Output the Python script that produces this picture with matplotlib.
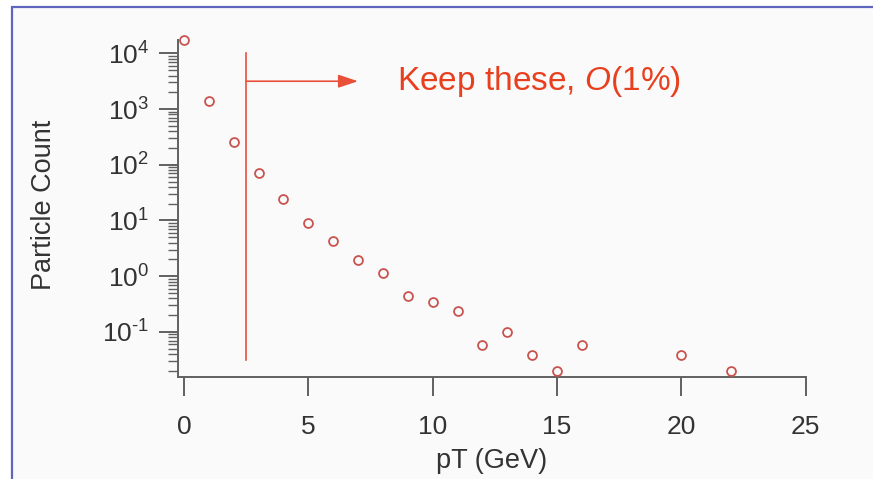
import matplotlib
matplotlib.use("Agg")
import matplotlib.pyplot as plt
from matplotlib.patches import Rectangle
from matplotlib.ticker import LogLocator, FixedLocator, NullLocator
import numpy as np

plt.rcParams['font.family'] = ['Liberation Sans', 'DejaVu Sans']
plt.rcParams['mathtext.fontset'] = 'custom'
plt.rcParams['mathtext.rm'] = 'Liberation Sans'
plt.rcParams['mathtext.it'] = 'Liberation Sans:italic'

# ---- data ----
pt = [0, 1, 2, 3, 4, 5, 6, 7, 8, 9, 10, 11, 12, 13, 14, 15, 16, 20, 22]
counts = [17300, 1410, 252, 72, 24, 9.1, 4.3, 1.92, 1.12, 0.445, 0.347, 0.239,
          0.059, 0.1, 0.039, 0.02, 0.059, 0.039, 0.02]
x_ticks = [0, 5, 10, 15, 20, 25]
cut_pt = 2.5
cut_top, cut_bottom = 1e4, 0.031
arrow_y, arrow_end = 10**3.5, 7.0
note_text = "Keep these, $\\mathit{O}$(1%)"
note_x, note_y = 8.56, 2190

W, H = 873, 479
fig = plt.figure(figsize=(W / 100, H / 100), dpi=100)
fig.patch.set_facecolor('white')

# slide panel with blue border (top and left visible)
panel = Rectangle((12 / W, -0.1), 1.2, 1 - 7 / H + 0.1, transform=fig.transFigure,
                  facecolor='#fafafa', edgecolor='#5f66c0', linewidth=1.6, zorder=-10)
fig.patches.append(panel)

ax = fig.add_axes([178 / W, 1 - 377 / H, (805.7 - 178) / W, (377 - 40) / H])
ax.set_zorder(5)
ax.set_facecolor('none')
ax.set_yscale('log')
ax.set_xlim(-0.24, 25)
ax.set_ylim(10**-1.81, 10**4.24)

axis_col = '#606060'
for s in ['top', 'right']:
    ax.spines[s].set_visible(False)
for s in ['left', 'bottom']:
    ax.spines[s].set_color(axis_col)
    ax.spines[s].set_linewidth(1.4)

ax.xaxis.set_major_locator(FixedLocator(x_ticks))
ax.xaxis.set_minor_locator(NullLocator())
ax.yaxis.set_major_locator(LogLocator(base=10, numticks=20))
ax.yaxis.set_minor_locator(LogLocator(base=10, subs=np.arange(2, 10), numticks=20))
ax.yaxis.set_major_formatter(
    lambda v, pos: "$10^{\\text{%d}}$" % int(round(np.log10(v))))

ax.tick_params(axis='x', which='major', direction='out', length=14, width=1.4,
               color=axis_col, labelsize=19, labelcolor='#333333', pad=13)
ax.tick_params(axis='y', which='major', direction='out', length=14, width=1.4,
               color=axis_col, labelsize=19, labelcolor='#333333', pad=7)
ax.tick_params(axis='y', which='minor', direction='out', length=7, width=1.0,
               color=axis_col)

ax.plot(pt, counts, linestyle='none', marker='o', markersize=6.4,
        markerfacecolor='none', markeredgecolor='#c9534f', markeredgewidth=1.3,
        clip_on=False, zorder=3)

red = '#e9503a'
ax.plot([cut_pt, cut_pt], [cut_top, cut_bottom], color=red, linewidth=1.2)
ax.annotate('', xy=(arrow_end, arrow_y), xytext=(cut_pt, arrow_y),
            arrowprops=dict(arrowstyle='-|>,head_length=1.2,head_width=0.4',
                            color=red, lw=1.2, shrinkA=0, shrinkB=0))
ax.text(note_x, note_y, note_text, color='#e8401f', fontsize=24, va='baseline', ha='left')

ax.set_xlabel('pT (GeV)', fontsize=19.5, color='#333333', labelpad=7)
ax.set_ylabel('Particle Count', fontsize=19.5, color='#333333')
ax.yaxis.set_label_coords(-0.192, 0.512)

fig.savefig('out.png', dpi=100, facecolor=fig.get_facecolor())
